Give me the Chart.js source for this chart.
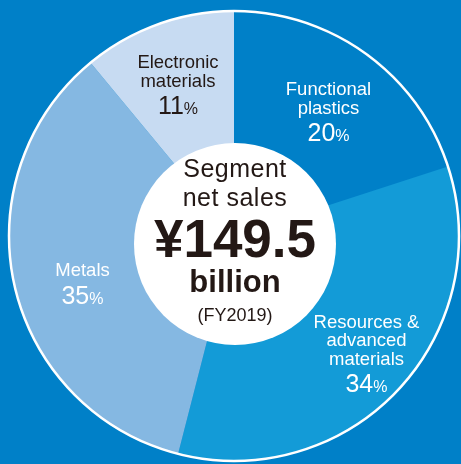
<!DOCTYPE html>
<html lang="en">
<head>
    <meta charset="UTF-8">
    <title>Segment net sales FY2019</title>
    <script src="https://cdn.jsdelivr.net/npm/chart.js"></script>
    <style>
        html, body { margin: 0; padding: 0; background: #0080c8; }
        .wrap { position: relative; width: 461px; height: 464px; overflow: hidden; font-family: "Liberation Sans", Arial, sans-serif; }
        canvas { position: absolute; left: 0; top: 0; }
        .lbl { position: absolute; transform: translateX(-50%); text-align: center; white-space: nowrap; font-size: 18.5px; line-height: 18.5px; color: #fff; }
        .lbl .pct { font-size: 25px; line-height: 30px; }
        .lbl .pct span { font-size: 16px; }
        .dark { color: #231815; }
        .ctr { position: absolute; left: 235px; transform: translateX(-50%); white-space: nowrap; color: #231815; line-height: 1; }
    </style>
</head>
<body>
<div class="wrap" id="wrap">
    <canvas id="segChart" width="461" height="464"></canvas>
    <div class="ctr" style="top:155.8px;font-size:25px;letter-spacing:0.5px;">Segment</div>
    <div class="ctr" style="top:184.8px;font-size:25px;letter-spacing:0.5px;">net sales</div>
    <div class="ctr" style="top:212px;font-size:53px;font-weight:bold;">¥149.5</div>
    <div class="ctr" style="top:265.8px;font-size:31px;font-weight:bold;">billion</div>
    <div class="ctr" style="top:305.8px;font-size:18px;">(FY2019)</div>
</div>

<script>
// Segment data (FY2019)
const segments = ['Functional plastics', 'Resources & advanced materials', 'Metals', 'Electronic materials'];
const shares = [20, 34, 35, 11];
const labelLines = [['Functional', 'plastics'], ['Resources &', 'advanced', 'materials'], ['Metals'], ['Electronic', 'materials']];

// styles
const segColors = ['#0080c8', '#139bd7', '#85b8e2', '#c7dbf2'];
const labelPos = [
    { x: 328.5, top: 80.3, dark: false },
    { x: 366.5, top: 312.6, dark: false },
    { x: 82.5, top: 261, dark: false },
    { x: 178, top: 53.3, dark: true }
];

// labels over the chart
const wrap = document.getElementById('wrap');
segments.forEach((name, i) => {
    const d = document.createElement('div');
    d.className = 'lbl' + (labelPos[i].dark ? ' dark' : '');
    d.style.left = labelPos[i].x + 'px';
    d.style.top = labelPos[i].top + 'px';
    d.title = name;
    d.innerHTML = labelLines[i].map(t => '<div>' + t.replace('&', '&amp;') + '</div>').join('') +
        '<div class="pct">' + shares[i] + '<span>%</span></div>';
    wrap.appendChild(d);
});

// white outer ring + white centre disc
const ringPlugin = {
    id: 'ring',
    afterDatasetsDraw(chart) {
        const arc = chart.getDatasetMeta(0).data[0];
        const ctx = chart.ctx;
        ctx.save();
        ctx.strokeStyle = '#ffffff';
        ctx.lineWidth = 2.5;
        ctx.beginPath();
        ctx.arc(arc.x, arc.y, arc.outerRadius, 0, Math.PI * 2);
        ctx.stroke();
        ctx.fillStyle = '#ffffff';
        ctx.beginPath();
        ctx.arc(arc.x + 1, arc.y + 8, 101, 0, Math.PI * 2);
        ctx.fill();
        ctx.restore();
    }
};

const segChart = new Chart(document.getElementById('segChart'), {
    type: 'doughnut',
    data: {
        labels: segments,
        datasets: [{
            data: shares,
            backgroundColor: segColors,
            borderWidth: 0
        }]
    },
    options: {
        responsive: false,
        animation: false,
        radius: 225,
        cutout: 88,
        rotation: 0,
        events: [],
        layout: { padding: { left: 7, top: 8, right: 0, bottom: 0 } },
        plugins: {
            legend: { display: false },
            tooltip: { enabled: false }
        }
    },
    plugins: [ringPlugin]
});
</script>
</body>
</html>
